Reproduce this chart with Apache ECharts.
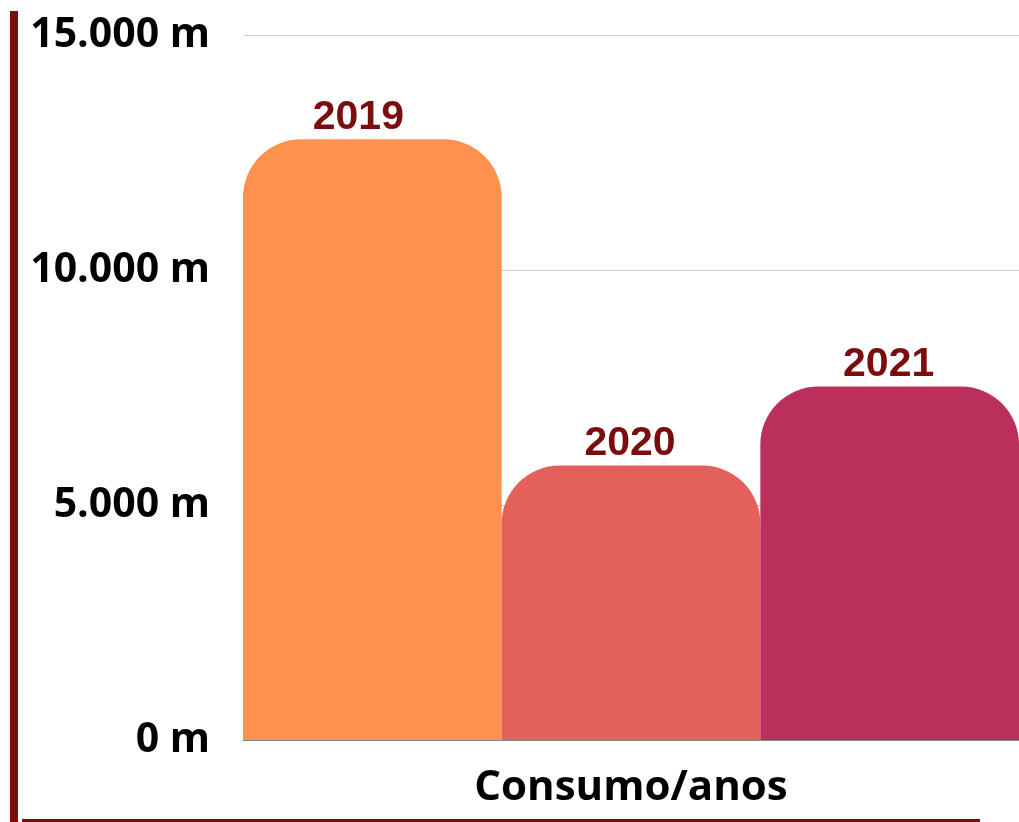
<!DOCTYPE html>
<html><head><meta charset="utf-8">
<script src="https://cdn.jsdelivr.net/npm/echarts@6/dist/echarts.min.js"></script>
<style>html,body{margin:0;padding:0;background:#fff}#c{width:1019px;height:822px}</style>
</head><body><div id="c"></div>
<script>
const categories = ['Consumo/anos'];
const seriesNames = ['2019', '2020', '2021'];
const seriesValues = [12780, 5840, 7520];
const seriesColors = ['#FE914D', '#E4605A', '#BB2F5B'];
const yTicks = [0, 5000, 10000, 15000];

const chart = echarts.init(document.getElementById('c'));
const fmt = v => String(v).replace(/\B(?=(\d{3})+(?!\d))/g, '.') + ' m';
chart.setOption({
  animation: false,
  grid: { left: 243, right: -4, top: 35, bottom: 82, containLabel: false },
  xAxis: {
    type: 'category', data: categories,
    axisLine: { lineStyle: { color: '#888', width: 1 } },
    axisTick: { show: false },
    axisLabel: { fontFamily: 'Open Sans', fontWeight: 'bold', fontSize: 42, color: '#000', margin: 27 }
  },
  yAxis: {
    type: 'value', min: yTicks[0], max: yTicks[yTicks.length - 1], interval: 5000,
    axisLine: { show: false }, axisTick: { show: false },
    splitLine: { lineStyle: { color: '#cccccc', width: 1 } },
    axisLabel: { formatter: fmt, fontFamily: 'Open Sans', fontWeight: 'bold', fontSize: 41, color: '#000', margin: 33, padding: [6, 0, 0, 0] }
  },
  graphic: [
    { type: 'rect', left: 10, top: 11, shape: { width: 8, height: 811 }, style: { fill: '#7a0e0e' } },
    { type: 'rect', left: 22, top: 819, shape: { width: 958, height: 3 }, style: { fill: '#7a0e0e' } }
  ],
  series: seriesNames.map((n, i) => ({
    type: 'bar', name: n, data: [seriesValues[i]],
    barGap: '0%', barCategoryGap: '0%',
    itemStyle: { color: seriesColors[i], borderRadius: [58, 58, 0, 0] },
    label: { show: true, position: 'top', distance: 1, offset: [i === 0 ? -14 : -1, 0], formatter: '{a}', fontFamily: 'Liberation Sans', fontWeight: 'bold', fontSize: 41, color: '#7a0e0e' }
  }))
});
</script></body></html>
